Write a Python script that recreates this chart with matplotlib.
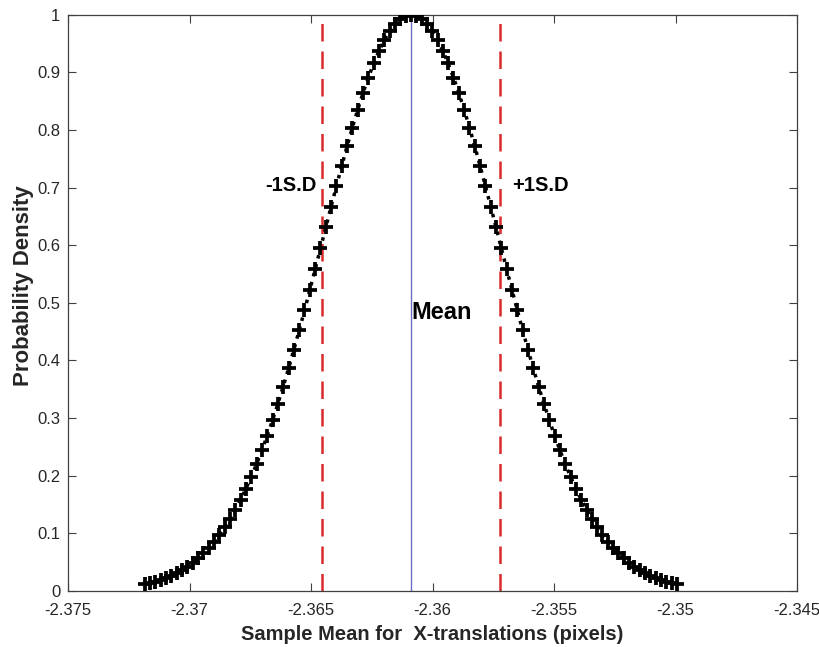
import matplotlib
matplotlib.use("Agg")
import matplotlib.pyplot as plt

# Sample mean distribution
x_vals = [
    -2.371840, -2.371621, -2.371402, -2.371183, -2.370964, -2.370745, -2.370526, -2.370307,
    -2.370088, -2.369869, -2.369650, -2.369431, -2.369212, -2.368993, -2.368774, -2.368555,
    -2.368336, -2.368117, -2.367898, -2.367679, -2.367460, -2.367241, -2.367022, -2.366803,
    -2.366584, -2.366365, -2.366146, -2.365927, -2.365708, -2.365489, -2.365270, -2.365051,
    -2.364832, -2.364613, -2.364394, -2.364175, -2.363956, -2.363737, -2.363518, -2.363299,
    -2.363080, -2.362861, -2.362642, -2.362423, -2.362204, -2.361985, -2.361766, -2.361547,
    -2.361328, -2.361109, -2.360890, -2.360671, -2.360452, -2.360233, -2.360014, -2.359795,
    -2.359576, -2.359357, -2.359138, -2.358919, -2.358700, -2.358481, -2.358262, -2.358043,
    -2.357824, -2.357605, -2.357386, -2.357167, -2.356948, -2.356729, -2.356510, -2.356291,
    -2.356072, -2.355853, -2.355634, -2.355415, -2.355196, -2.354977, -2.354758, -2.354539,
    -2.354320, -2.354101, -2.353882, -2.353663, -2.353444, -2.353225, -2.353006, -2.352787,
    -2.352568, -2.352349, -2.352130, -2.351911, -2.351692, -2.351473, -2.351254, -2.351035,
    -2.350816, -2.350597, -2.350378, -2.350159, -2.349940,
]

half_density = [
    0.0111, 0.0133, 0.0158, 0.0188, 0.0222, 0.0261, 0.0307, 0.0359, 0.0418, 0.0485,
    0.0561, 0.0647, 0.0743, 0.0851, 0.0970, 0.1103, 0.1248, 0.1408, 0.1583, 0.1773,
    0.1979, 0.2201, 0.2439, 0.2692, 0.2962, 0.3247, 0.3546, 0.3859, 0.4185, 0.4521,
    0.4868, 0.5221, 0.5581, 0.5944, 0.6308, 0.6670, 0.7027, 0.7377, 0.7717, 0.8043,
    0.8353, 0.8643, 0.8912, 0.9156, 0.9373, 0.9560, 0.9716, 0.9839, 0.9928, 0.9982,
]
y_vals = half_density + [1.0000] + half_density[::-1]

mean_x = -2.36089
minus_sd_x = -2.36454
plus_sd_x = -2.35724

x_ticks = [-2.375, -2.37, -2.365, -2.36, -2.355, -2.35, -2.345]
x_tick_labels = ["-2.375", "-2.37", "-2.365", "-2.36", "-2.355", "-2.35", "-2.345"]
y_ticks = [0, 0.1, 0.2, 0.3, 0.4, 0.5, 0.6, 0.7, 0.8, 0.9, 1]
y_tick_labels = ["0", "0.1", "0.2", "0.3", "0.4", "0.5", "0.6", "0.7", "0.8", "0.9", "1"]

plt.rcParams["font.family"] = ["Liberation Sans", "DejaVu Sans"]

fig = plt.figure(figsize=(8.2, 6.47), dpi=100)
ax = fig.add_axes([0.083, 0.087, 0.889, 0.89])

ax.plot(x_vals, y_vals, linestyle=":", color="black", linewidth=2.5,
        marker="+", markersize=10.5, markeredgewidth=2.7, zorder=3)

ax.axvline(minus_sd_x, color="#d92b2b", linestyle=(0, (7, 4)), linewidth=1.8, zorder=2)
ax.axvline(plus_sd_x, color="#d92b2b", linestyle=(0, (7, 4)), linewidth=1.8, zorder=2)
ax.axvline(mean_x, color="#6b6bc8", linewidth=1.0, zorder=2)

ax.text(-2.36477, 0.704, "-1S.D", fontsize=14.5, fontweight="bold", ha="right", va="center")
ax.text(-2.35671, 0.704, "+1S.D", fontsize=14.5, fontweight="bold", ha="left", va="center")
ax.text(-2.36086, 0.4835, "Mean", fontsize=17, fontweight="bold", ha="left", va="center")

ax.set_xlim(-2.375, -2.345)
ax.set_ylim(0, 1)
ax.set_xticks(x_ticks)
ax.set_xticklabels(x_tick_labels)
ax.set_yticks(y_ticks)
ax.set_yticklabels(y_tick_labels)
ax.tick_params(direction="in", length=6, width=0.8, colors="#404040",
               labelsize=12, labelcolor="#262626", top=True, right=True,
               labeltop=False, labelright=False)
ax.tick_params(axis="x", pad=9)
ax.tick_params(axis="y", pad=5.5)
for spine in ax.spines.values():
    spine.set_color("#404040")
    spine.set_linewidth(0.9)

ax.set_xlabel("Sample Mean for  X-translations (pixels)", fontsize=14.5,
              fontweight="bold", color="#262626", labelpad=5)
ax.set_ylabel("Probability Density", fontsize=16, fontweight="bold",
              color="#262626")
ax.yaxis.set_label_coords(-0.047, 0.53)

fig.savefig("out.png", dpi=100)
